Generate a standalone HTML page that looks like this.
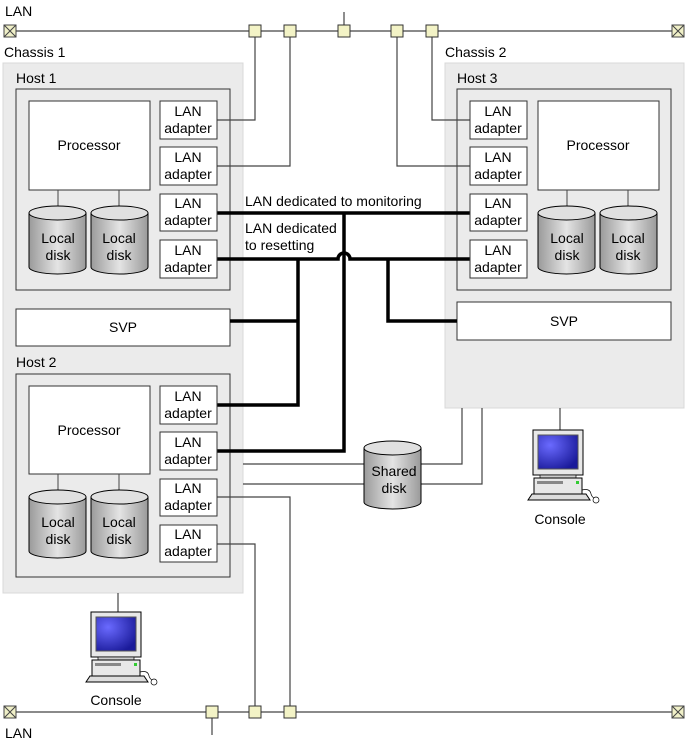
<!DOCTYPE html>
<html><head><meta charset="utf-8"><style>
body{margin:0;background:#fff}
svg{display:block;font-family:"Liberation Sans",sans-serif}
text{font-size:14px;fill:#000}
</style></head><body>
<svg width="687" height="745" viewBox="0 0 687 745" xmlns="http://www.w3.org/2000/svg">
<defs>
<linearGradient id="dg" x1="0" x2="1">
<stop offset="0" stop-color="#9a9a9a"/><stop offset="0.5" stop-color="#e4e4e4"/><stop offset="1" stop-color="#9a9a9a"/>
</linearGradient>
<radialGradient id="sc" cx="0.3" cy="0.3" r="0.8"><stop offset="0" stop-color="#6a6aff"/><stop offset="1" stop-color="#1a1a9a"/></radialGradient>
<g id="disk">
<path d="M0,7 L0,61 A28.5,7 0 0 0 57,61 L57,7" fill="url(#dg)" stroke="#000"/>
<ellipse cx="28.5" cy="7" rx="28.5" ry="7" fill="#e0e0e0" stroke="#000"/>
</g>
<g id="console">
<rect x="5" y="0" width="50" height="45" fill="#e8e8e8" stroke="#000"/>
<rect x="10" y="5" width="40" height="34" fill="url(#sc)" stroke="#555"/>
<rect x="12" y="45" width="36" height="3" fill="#ccc" stroke="#000" stroke-width="0.7"/>
<rect x="6" y="48" width="48" height="16" fill="#e8e8e8" stroke="#000"/>
<rect x="9" y="51" width="26" height="3" fill="#888"/>
<rect x="48" y="51" width="3" height="3" fill="#3c3"/>
<path d="M0,70 L4,64 L58,64 L62,70 Z" fill="#ddd" stroke="#000"/>
<path d="M54,60 Q62,58 63,64 Q64,67 66,68" fill="none" stroke="#000" stroke-width="0.7"/>
<circle cx="68" cy="70" r="3" fill="#fff" stroke="#000" stroke-width="0.7"/>
</g>
</defs>

<!-- chassis -->
<rect x="3" y="63" width="240" height="530" fill="#ebebeb" stroke="#d8d8d8"/>
<rect x="445" y="63" width="239" height="345" fill="#ebebeb" stroke="#d8d8d8"/>
<text x="4" y="57">Chassis 1</text>
<text x="445" y="57">Chassis 2</text>

<!-- Host boxes -->
<g fill="#ebebeb" stroke="#333">
<rect x="16" y="89" width="214" height="201"/>
<rect x="16" y="374" width="214" height="203"/>
<rect x="457" y="89" width="214" height="201"/>
</g>
<text x="16" y="83">Host 1</text>
<text x="16" y="367">Host 2</text>
<text x="457" y="83">Host 3</text>

<!-- LAN lines -->
<g stroke="#444" stroke-width="1.2" fill="none">
<line x1="10" y1="31" x2="678" y2="31"/>
<line x1="344" y1="12" x2="344" y2="31"/>
<line x1="10" y1="712" x2="678" y2="712"/>
<line x1="212" y1="712" x2="212" y2="735"/>
<polyline points="217,120 255,120 255,31"/>
<polyline points="217,166 290,166 290,31"/>
<polyline points="470,120 432,120 432,31"/>
<polyline points="470,166 397,166 397,31"/>
<polyline points="217,497 290,497 290,712"/>
<polyline points="217,544 255,544 255,712"/>
<polyline points="243,464 364,464"/>
<polyline points="243,484 364,484"/>
<polyline points="421,464 462,464 462,408"/>
<polyline points="421,484 482,484 482,408"/>
<line x1="560" y1="408" x2="560" y2="430"/>
<line x1="118" y1="593" x2="118" y2="612"/>
</g>
<text x="5" y="16">LAN</text>
<text x="5" y="738">LAN</text>

<!-- terminators -->
<g fill="#f0f0c8" stroke="#444">
<rect x="4" y="25" width="12" height="12"/><path d="M4,25 L16,37 M16,25 L4,37"/>
<rect x="672" y="25" width="12" height="12"/><path d="M672,25 L684,37 M684,25 L672,37"/>
<rect x="4" y="706" width="12" height="12"/><path d="M4,706 L16,718 M16,706 L4,718"/>
<rect x="672" y="706" width="12" height="12"/><path d="M672,706 L684,718 M684,706 L672,718"/>
</g>
<g fill="#f3f3c6" stroke="#333">
<rect x="249" y="25" width="12" height="12"/>
<rect x="284" y="25" width="12" height="12"/>
<rect x="338" y="25" width="12" height="12"/>
<rect x="391" y="25" width="12" height="12"/>
<rect x="426" y="25" width="12" height="12"/>
<rect x="206" y="706" width="12" height="12"/>
<rect x="249" y="706" width="12" height="12"/>
<rect x="284" y="706" width="12" height="12"/>
</g>

<g fill="#fff" stroke="#333">
<rect x="29" y="101" width="121" height="89"/>
<rect x="29" y="386" width="121" height="88"/>
<rect x="538" y="101" width="121" height="89"/>
<rect x="16" y="309" width="214" height="37"/>
<rect x="457" y="302" width="214" height="38"/>
</g>
<g text-anchor="middle">
<text x="89" y="150">Processor</text>
<text x="89" y="435">Processor</text>
<text x="598" y="150">Processor</text>
<text x="123" y="332">SVP</text>
<text x="564" y="326">SVP</text>
</g>

<!-- disk stems -->
<g stroke="#444">
<line x1="58" y1="190" x2="58" y2="207"/><line x1="119" y1="190" x2="119" y2="207"/>
<line x1="58" y1="474" x2="58" y2="490"/><line x1="119" y1="474" x2="119" y2="490"/>
<line x1="567" y1="190" x2="567" y2="207"/><line x1="628" y1="190" x2="628" y2="207"/>
</g>
<use href="#disk" x="29" y="206"/><use href="#disk" x="91" y="206"/>
<use href="#disk" x="29" y="490"/><use href="#disk" x="91" y="490"/>
<use href="#disk" x="538" y="206"/><use href="#disk" x="600" y="206"/>
<use href="#disk" x="364" y="441"/>
<g text-anchor="middle">
<text x="58" y="243">Local</text><text x="58" y="260">disk</text>
<text x="119" y="243">Local</text><text x="119" y="260">disk</text>
<text x="58" y="527">Local</text><text x="58" y="544">disk</text>
<text x="119" y="527">Local</text><text x="119" y="544">disk</text>
<text x="567" y="243">Local</text><text x="567" y="260">disk</text>
<text x="628" y="243">Local</text><text x="628" y="260">disk</text>
<text x="394" y="476">Shared</text><text x="394" y="493">disk</text>
</g>

<!-- thick lines -->
<g stroke="#000" stroke-width="3.5" fill="none">
<line x1="217" y1="213" x2="470" y2="213"/>
<path d="M217,259 L338,259 A6,6 0 0 1 350,259 L470,259"/>
<polyline points="344,213 344,451 217,451"/>
<polyline points="298,259 298,405 217,405"/>
<line x1="230" y1="321" x2="298" y2="321"/>
<polyline points="388,259 388,321 457,321"/>
</g>
<text x="245" y="206">LAN dedicated to monitoring</text>
<text x="245" y="233">LAN dedicated</text>
<text x="245" y="250">to resetting</text>

<!-- adapters -->
<g fill="#fff" stroke="#333">
<rect x="160" y="101" width="57" height="38"/><rect x="160" y="147" width="57" height="38"/>
<rect x="160" y="194" width="57" height="37"/><rect x="160" y="240" width="57" height="38"/>
<rect x="160" y="386" width="57" height="38"/><rect x="160" y="432" width="57" height="38"/>
<rect x="160" y="479" width="57" height="37"/><rect x="160" y="525" width="57" height="37"/>
<rect x="470" y="101" width="57" height="38"/><rect x="470" y="147" width="57" height="38"/>
<rect x="470" y="194" width="57" height="37"/><rect x="470" y="240" width="57" height="38"/>
</g>
<g text-anchor="middle">
<text x="188" y="116">LAN</text><text x="188" y="133">adapter</text>
<text x="188" y="162">LAN</text><text x="188" y="179">adapter</text>
<text x="188" y="208">LAN</text><text x="188" y="225">adapter</text>
<text x="188" y="255">LAN</text><text x="188" y="272">adapter</text>
<text x="188" y="401">LAN</text><text x="188" y="418">adapter</text>
<text x="188" y="447">LAN</text><text x="188" y="464">adapter</text>
<text x="188" y="493">LAN</text><text x="188" y="510">adapter</text>
<text x="188" y="539">LAN</text><text x="188" y="556">adapter</text>
<text x="498" y="116">LAN</text><text x="498" y="133">adapter</text>
<text x="498" y="162">LAN</text><text x="498" y="179">adapter</text>
<text x="498" y="208">LAN</text><text x="498" y="225">adapter</text>
<text x="498" y="255">LAN</text><text x="498" y="272">adapter</text>
</g>

<use href="#console" x="528" y="430"/>
<use href="#console" x="86" y="612"/>
<text x="560" y="524" text-anchor="middle">Console</text>
<text x="116" y="705" text-anchor="middle">Console</text>
</svg>
</body></html>
